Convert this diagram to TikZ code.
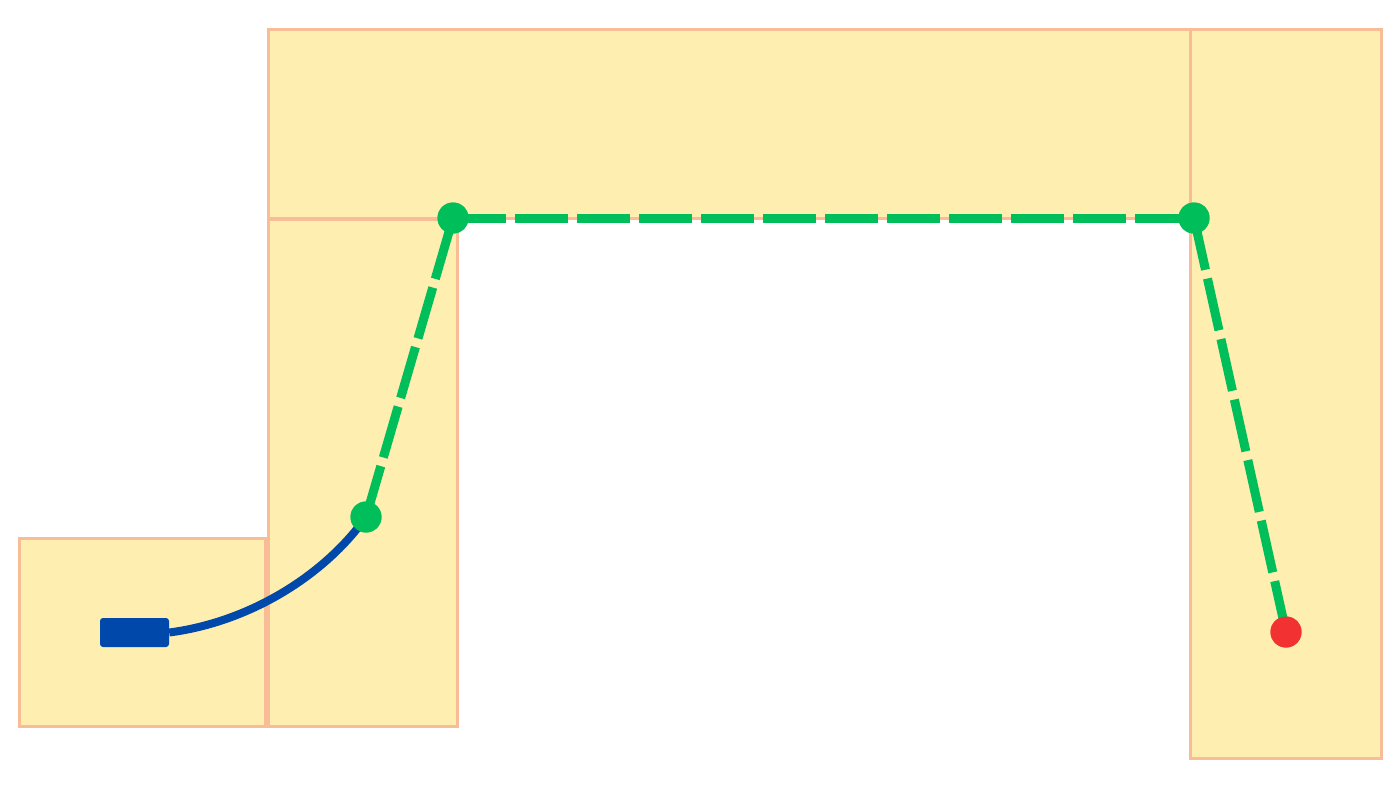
\documentclass[tikz,border=0pt]{standalone}
\begin{document}
\begin{tikzpicture}[x=1pt,y=-1pt,
  zone/.style={draw=zoneborder,fill=zonefill,line width=3pt},
  dot/.style={circle,fill=dotgreen,minimum size=31pt,inner sep=0pt},
  enddot/.style={circle,fill=dotred,minimum size=31pt,inner sep=0pt},
  route/.style={draw=dotgreen,line width=9pt,dash pattern=on 53pt off 9pt},
  cable/.style={draw=cableblue,line width=8pt},
  device/.style={rectangle,rounded corners=3pt,fill=cableblue,minimum width=69pt,minimum height=29pt,inner sep=0pt}]
\definecolor{zonefill}{RGB}{254,238,176}
\definecolor{zoneborder}{RGB}{248,188,150}
\definecolor{dotgreen}{RGB}{0,190,90}
\definecolor{dotred}{RGB}{242,50,50}
\definecolor{cableblue}{RGB}{0,72,170}
\useasboundingbox (0,0) rectangle (1400,788);
\fill[white] (0,0) rectangle (1400,788);
% zones
\draw[zone] (268,29) rectangle (1190,218);
\draw[zone] (1190,29) rectangle (1381,758);
\draw[zone] (268,219) rectangle (457,726);
\draw[zone] (19,538) rectangle (265,726);
% nodes
\node[device] (dev) at (134.5,632.5) {};
\node[dot] (p1) at (366,517) {};
\node[dot] (p2) at (453,218) {};
\node[dot] (p3) at (1194,218) {};
\node[enddot] (p4) at (1286,632) {};
% connectors
\draw[cable] (dev.east) .. controls (250,622) and (325,575) .. (p1.center);
\draw[route] (p1.center) -- (p2.center);
\draw[route] (p2.center) -- (p3.center);
\draw[route] (p3.center) -- (p4.center);
% redraw dots on top
\node[dot] at (p1) {};
\node[dot] at (p2) {};
\node[dot] at (p3) {};
\node[enddot] at (p4) {};
\end{tikzpicture}
\end{document}
